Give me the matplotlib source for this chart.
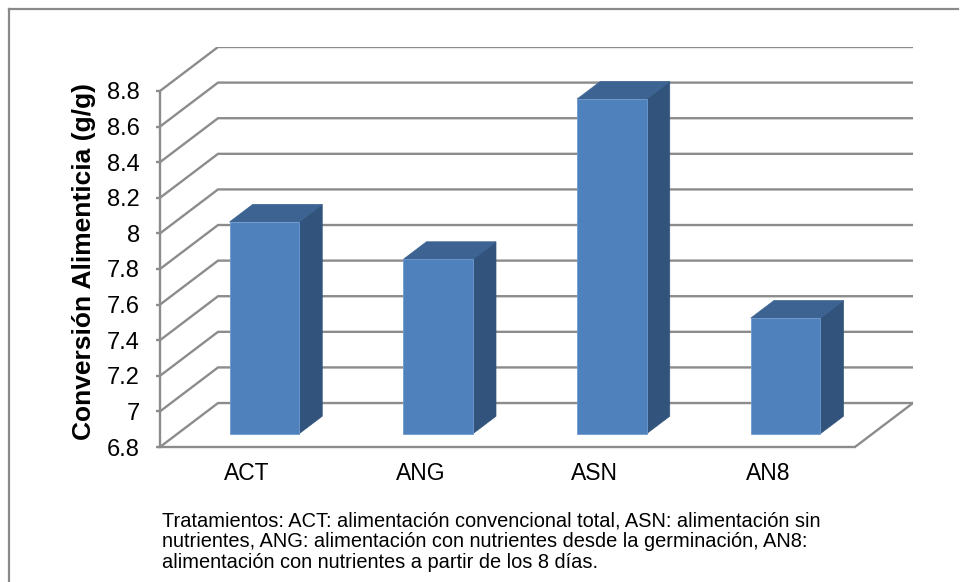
import matplotlib
matplotlib.use("Agg")
import matplotlib.pyplot as plt
from matplotlib import font_manager
from matplotlib.patches import Polygon
from matplotlib.lines import Line2D
import numpy as np

# ---- data ----
categories = ["ACT", "ANG", "ASN", "AN8"]
values = [7.99, 7.78, 8.68, 7.45]
y_ticks = [6.8, 7.0, 7.2, 7.4, 7.6, 7.8, 8.0, 8.2, 8.4, 8.6, 8.8]
y_label = "Conversión Alimenticia (g/g)"
caption_lines = [
    "Tratamientos: ACT: alimentación convencional total, ASN: alimentación sin",
    "nutrientes, ANG: alimentación con nutrientes desde la germinación, AN8:",
    "alimentación con nutrientes a partir de los 8 días.",
]

# ---- fonts ----
installed = {f.name for f in font_manager.fontManager.ttflist}
main_font = "Liberation Sans" if "Liberation Sans" in installed else "DejaVu Sans"
narrow_font = "Liberation Sans Narrow" if "Liberation Sans Narrow" in installed else main_font
caption_size = 13 if narrow_font != main_font else 14.4
plt.rcParams["font.family"] = [main_font, "DejaVu Sans"]

W, H, DPI = 966, 582, 100
fig = plt.figure(figsize=(W / DPI, H / DPI), dpi=DPI)
fig.patch.set_facecolor("white")

# 3-D look: depth offset of the back wall, in data units
YMIN, YMAX = y_ticks[0], y_ticks[-1]
n = len(categories)
DX = 0.334          # along the category axis
DY = 0.247          # along the value axis
BAR_W = 0.4         # bar width (fraction of a category slot)
BAR_D0, BAR_D1 = 0.3, 0.7   # bar depth span (fraction of floor depth)

# axes placed so the front plane spans the plot region
px_left, px_right = 160, 913
px_bottom, px_top = 447, 47
ax = fig.add_axes([px_left / W, 1 - px_bottom / H,
                   (px_right - px_left) / W, (px_bottom - px_top) / H])
ax.set_xlim(0, n + DX)
ax.set_ylim(YMIN, YMAX + DY)
ax.set_facecolor("none")

grid_c = "#8c8c8c"
grid_lw = 1.7

# value axis (front-left edge)
for s in ["top", "right"]:
    ax.spines[s].set_visible(False)
ax.spines["left"].set_bounds(YMIN, YMAX)
ax.spines["bottom"].set_bounds(0, n)
for s in ["left", "bottom"]:
    ax.spines[s].set_color(grid_c)
    ax.spines[s].set_linewidth(grid_lw)
ax.set_yticks(y_ticks)
ax.set_yticklabels([f"{round(v, 1):g}" for v in y_ticks])
ax.tick_params(axis="y", direction="out", length=2.6, width=grid_lw,
               color=grid_c, pad=12, labelsize=17)
ax.set_xticks([i + 0.5 for i in range(n)])
ax.set_xticklabels(categories)
ax.tick_params(axis="x", length=0, pad=11, labelsize=16.5)

# gridlines: side wall diagonals and back wall horizontals
for v in y_ticks:
    ax.plot([0, DX, n + DX], [v, v + DY, v + DY], color=grid_c,
            lw=grid_lw, solid_joinstyle="miter", zorder=1)
# floor right edge
ax.plot([n, n + DX], [YMIN, YMIN + DY], color=grid_c, lw=grid_lw, zorder=1)

# bars
front_c = "#4f81bd"
side_c = "#32537b"
top_c = "#3c6392"
for i, v in enumerate(values):
    x0 = i + 0.5 - BAR_W / 2 + BAR_D0 * DX
    x1 = x0 + BAR_W
    yb = YMIN + BAR_D0 * DY
    yt = v + BAR_D0 * DY
    ddx = (BAR_D1 - BAR_D0) * DX
    ddy = (BAR_D1 - BAR_D0) * DY
    side = Polygon([(x1, yb), (x1 + ddx, yb + ddy), (x1 + ddx, yt + ddy), (x1, yt)],
                   closed=True, facecolor=side_c, edgecolor=side_c, lw=0.5, zorder=3)
    top = Polygon([(x0, yt), (x1, yt), (x1 + ddx, yt + ddy), (x0 + ddx, yt + ddy)],
                  closed=True, facecolor=top_c, edgecolor=top_c, lw=0.5, zorder=3)
    front = Polygon([(x0, yb), (x1, yb), (x1, yt), (x0, yt)],
                    closed=True, facecolor=front_c, edgecolor="#6f9ad0", lw=0.6, zorder=4)
    for p in (side, top, front):
        ax.add_patch(p)

# axis title
fig.text(84 / W, 1 - 262 / H, y_label, rotation=90, ha="center", va="center",
         fontsize=19, fontweight="bold")

# caption
for k, line in enumerate(caption_lines):
    fig.text(162 / W, 1 - (521 + 20.5 * k) / H, line, ha="left", va="center",
             fontsize=caption_size, family=[narrow_font, "DejaVu Sans"])

# chart frame
frame_c = "#8a8a8a"
fig.add_artist(Line2D([9 / W, 9 / W], [0, 1 - 9 / H], color=frame_c, lw=1.6,
                      transform=fig.transFigure))
fig.add_artist(Line2D([9 / W, 958 / W], [1 - 9 / H, 1 - 9 / H], color=frame_c, lw=1.6,
                      transform=fig.transFigure))

fig.savefig("out.png", dpi=DPI, facecolor="white")
